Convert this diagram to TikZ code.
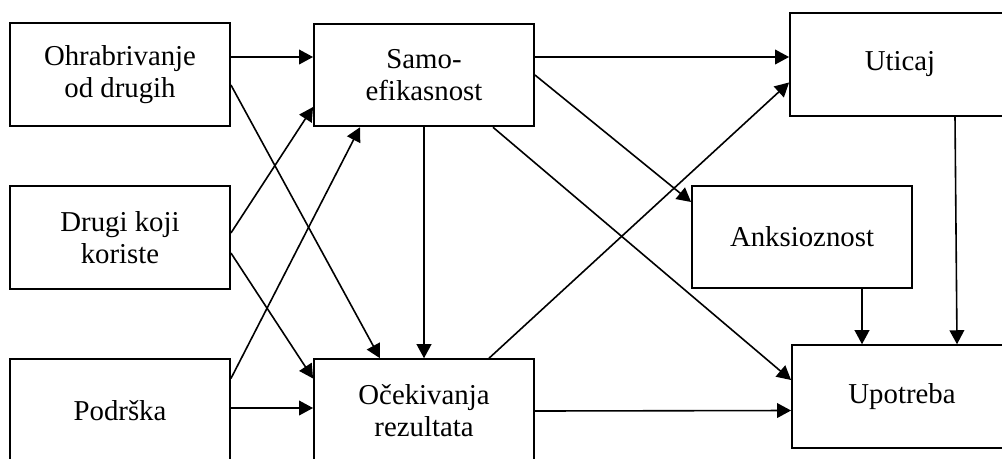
\documentclass[tikz,border=0pt]{standalone}
\usepackage{fontspec}
\setmainfont{Liberation Serif}
\usetikzlibrary{arrows.meta}
\usetikzlibrary{calc}
\tikzset{
  Kasten/.style={draw,line width=1.4pt,minimum width=165pt,minimum height=77pt,
    align=center,inner sep=2pt}, % für die Kästen
  Pfeil/.style={line width=1.2pt,->} % für Pfeile
}

\begin{document}
\begin{tikzpicture}[x=0.75pt,y=-0.75pt,
font=\fontsize{21.6pt}{24pt}\selectfont,
>={Triangle[length=10.5pt,width=11pt]} % Voreinstellung für Pfeilspitzen
]
\useasboundingbox (0,0) rectangle (1002,458);
\clip (0,0) rectangle (1002,458);

%Kästen
\node[Kasten] (Ohr)  at (120,74.5)  {Ohrabrivanje\\od drugih};
\node[Kasten] (Dru)  at (120,237.5) {Drugi koji\\koriste};
\node[Kasten] (Pod)  at (120,410.5) {Podrška};
\node[Kasten] (Samo) at (424,75)    {Samo-\\efikasnost};
\node[Kasten] (Oce)  at (424,410.5) {Očekivanja\\rezultata};
\node[Kasten] (Uti)  at (900,64.5)  {Uticaj};
\node[Kasten] (Ank)  at (802,237)   {Anksioznost};
\node[Kasten] (Upo)  at (902,396.5) {Upotreba};

%Pfeile von links
\draw[Pfeil] ($(Ohr.east)+(0,-17.5)$) -- ($(Samo.west)+(0,-18)$);
\draw[Pfeil] ($(Ohr.east)+(0,10.5)$) -- ($(Oce.north)+(-44,0)$);
\draw[Pfeil] ($(Dru.east)+(0,-4.5)$) -- ($(Samo.west)+(0,32)$);
\draw[Pfeil] ($(Dru.east)+(0,15.5)$) -- ($(Oce.west)+(0,-32)$);
\draw[Pfeil] ($(Pod.east)+(0,-32)$) -- ($(Samo.south)+(-64,0)$);
\draw[Pfeil] ($(Pod.east)+(0,-2.5)$) -- ($(Oce.west)+(0,-2.5)$);

%Pfeile in der Mitte
\draw[Pfeil] (Samo.south) -- (Oce.north);
\draw[Pfeil] ($(Samo.south)+(69,0)$) -- ($(Upo.west)+(0,-16.5)$);
\draw[Pfeil] ($(Samo.east)+(0,-18)$) -- ($(Uti.west)+(0,-7.5)$);
\draw[Pfeil] (Samo.east) -- ($(Ank.west)+(0,-35)$);
\draw[Pfeil] ($(Oce.north)+(65,0)$) -- ($(Uti.west)+(0,18)$);
\draw[Pfeil] ($(Oce.east)+(0,0.5)$) -- ($(Upo.west)+(0,14)$);

%Pfeile rechts
\draw[Pfeil] ($(Ank.south)+(60,0)$) -- ($(Upo.north)+(-40,0)$);
\draw[Pfeil] ($(Uti.south)+(55,0)$) -- ($(Upo.north)+(55,0)$);

\end{tikzpicture}
\end{document}
